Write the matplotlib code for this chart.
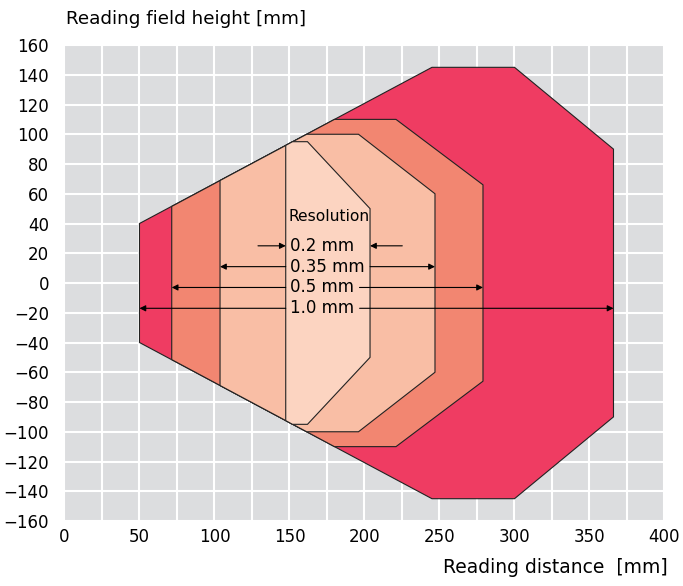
import matplotlib
matplotlib.use("Agg")
import matplotlib.pyplot as plt

plt.rcParams['font.family'] = ['DejaVu Sans']

# reading field outlines, one per resolution (reading distance, field height), in mm
labels = ["1.0 mm", "0.5 mm", "0.35 mm", "0.2 mm"]
dist_10 = [50, 245, 300, 366, 366, 300, 245, 50]
height_10 = [40, 145, 145, 90, -90, -145, -145, -40]
dist_05 = [71.5, 180, 221, 279, 279, 221, 180, 71.5]
height_05 = [51.5, 110, 110, 66, -66, -110, -110, -51.5]
dist_035 = [103.7, 161.5, 196, 247, 247, 196, 161.5, 103.7]
height_035 = [68.9, 100, 100, 60, -60, -100, -100, -68.9]
dist_02 = [147.5, 152, 162, 203.7, 203.7, 162, 152, 147.5]
height_02 = [92.5, 95, 95, 50, -50, -95, -95, -92.5]

colors = ["#ef3c62", "#f28671", "#f9bea5", "#fcd4c1"]

# arrow rows: y position, near and far ends
row_y = [-17, -3, 11, 25]
near = [50, 71.5, 103.7, 147.5]
far = [366, 279, 247, 203.7]

fig = plt.figure(figsize=(6.83, 5.86), dpi=100)
ax = fig.add_axes([0.0944, 0.1109, 0.8785, 0.8123])
ax.set_facecolor("#dcdddf")

fields = [(dist_10, height_10), (dist_05, height_05), (dist_035, height_035), (dist_02, height_02)]
for (xs, ys), c in zip(fields, colors):
    ax.fill(xs, ys, facecolor=c, edgecolor="#222222", linewidth=0.8, zorder=2)

ax.set_xlim(0, 400)
ax.set_ylim(-160, 160)
ax.set_xticks(range(0, 401, 50))
ax.set_yticks(range(-160, 161, 20))
ax.set_xticks(range(0, 401, 25), minor=True)
ax.grid(True, which="both", color="white", linewidth=1.5)
ax.set_axisbelow(True)
for s in ax.spines.values():
    s.set_visible(False)
ax.tick_params(which="both", length=0, labelsize=12)
ax.tick_params(axis="y", pad=11)
ax.tick_params(axis="x", pad=5)

fig.text(0.0966, 0.968, "Reading field height [mm]", fontsize=13.2, va="center", ha="left")
fig.text(0.978, 0.031, "Reading distance  [mm]", fontsize=13.5, va="center", ha="right")

arrow = dict(arrowstyle="-|>", mutation_scale=9, lw=0.8, color="black",
             shrinkA=0, shrinkB=0)
text_x = 150.5
ax.text(text_x - 1.2, 45, "Resolution", fontsize=11.2, va="center", ha="left", zorder=5)

fig.canvas.draw()
inv = ax.transData.inverted()
for lab, y, x0, x1 in zip(labels, row_y, near, far):
    t = ax.text(text_x, y, lab, fontsize=12, va="center", ha="left", zorder=5)
    bb = t.get_window_extent(renderer=fig.canvas.get_renderer())
    right = inv.transform((bb.x1, bb.y0))[0] + 3.5
    if lab == "0.2 mm":
        ax.annotate("", xy=(x0, y), xytext=(x0 - 18.5, y), arrowprops=arrow, zorder=4)
        ax.annotate("", xy=(x1, y), xytext=(x1 + 21.5, y), arrowprops=arrow, zorder=4)
    else:
        ax.annotate("", xy=(x0, y), xytext=(147.5, y), arrowprops=arrow, zorder=4)
        ax.annotate("", xy=(x1, y), xytext=(right, y), arrowprops=arrow, zorder=4)

fig.savefig("out.png", dpi=100)
